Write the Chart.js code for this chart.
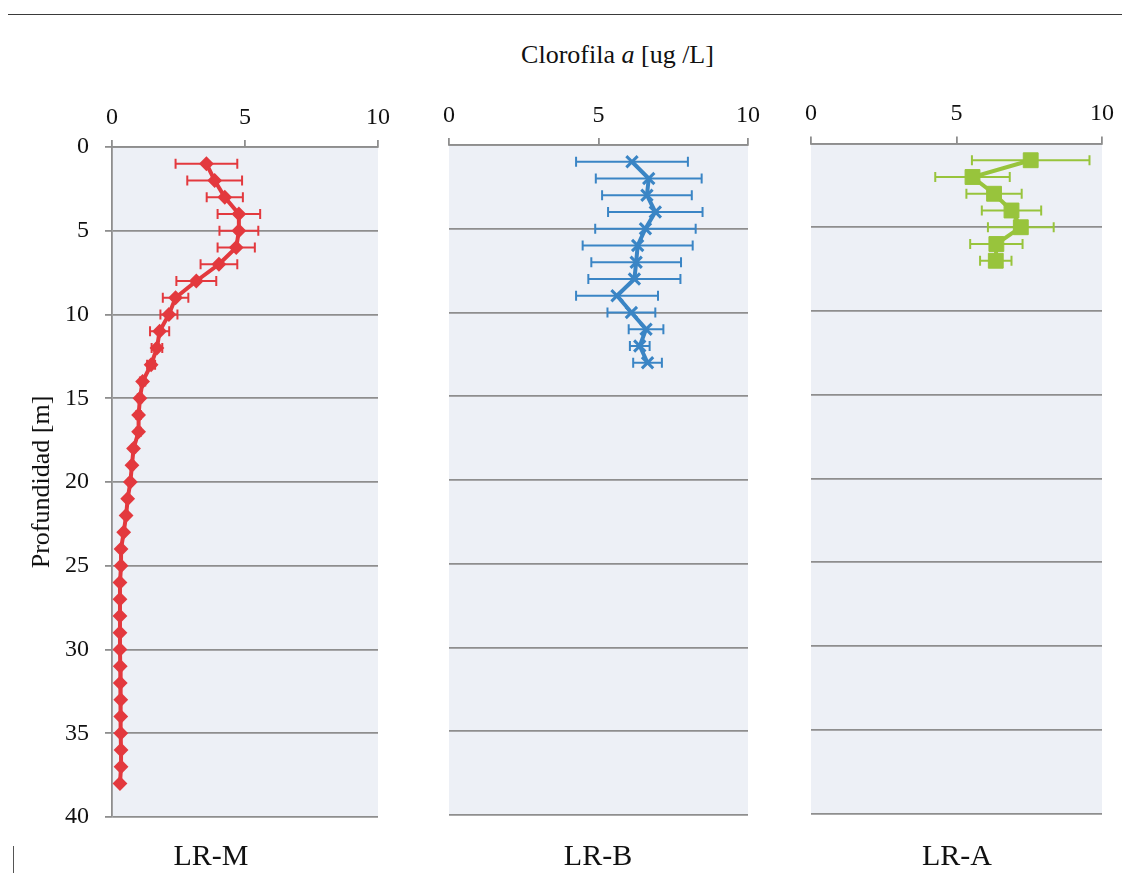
<!DOCTYPE html>
<html>
<head>
<meta charset="utf-8">
<title>Clorofila a - perfiles</title>
<script src="https://cdn.jsdelivr.net/npm/chart.js@4.4.0/dist/chart.umd.min.js"></script>
<style>
  body { margin: 0; background: #fff; font-family: "Liberation Serif", "Times New Roman", serif; color: #111; }
  #page { position: relative; width: 1122px; height: 873px; overflow: hidden; }
  canvas { position: absolute; left: 0; top: 0; }
  .rule { position: absolute; left: 8px; top: 14px; width: 1114px; height: 0; border-top: 1.5px solid #3a3a3a; }
  .mark { position: absolute; left: 13px; top: 846px; width: 0; height: 27px; border-left: 1.5px solid #555; }
  .title { position: absolute; top: 40px; left: 0; width: 1235px; text-align: center; font-size: 26px; }
  .panel { position: absolute; top: 838px; width: 200px; margin-left: -100px; text-align: center; font-size: 30px; }
</style>
</head>
<body>
<div id="page">
  <div class="rule"></div>
  <div class="mark"></div>
  <div class="title">Clorofila <i>a</i> [ug /L]</div>
  <canvas id="chartM" width="1122" height="873"></canvas>
  <canvas id="chartB" width="1122" height="873"></canvas>
  <canvas id="chartA" width="1122" height="873"></canvas>
  <div class="panel" style="left:211px">LR-M</div>
  <div class="panel" style="left:598px">LR-B</div>
  <div class="panel" style="left:957px">LR-A</div>
</div>
<script>
// ---------------- data ----------------
// LR-M
var depthM = [1, 2, 3, 4, 5, 6, 7, 8, 9, 10, 11, 12, 13, 14, 15, 16, 17, 18, 19, 20,
              21, 22, 23, 24, 25, 26, 27, 28, 29, 30, 31, 32, 33, 34, 35, 36, 37, 38];
var chlM = [3.55, 3.86, 4.24, 4.77, 4.77, 4.67, 4.02, 3.17, 2.39, 2.14, 1.79, 1.69, 1.47, 1.15, 1.05, 1.0, 1.0, 0.81, 0.75, 0.69,
            0.59, 0.53, 0.44, 0.34, 0.34, 0.30, 0.30, 0.30, 0.30, 0.30, 0.31, 0.31, 0.33, 0.33, 0.33, 0.34, 0.34, 0.30];
var errM = [1.16, 1.03, 0.68, 0.80, 0.73, 0.70, 0.69, 0.75, 0.48, 0.32, 0.36, 0.20, 0.15, 0.10, 0.08, 0.08, 0.08, 0.06, 0.06, 0.06,
            0.05, 0.05, 0.04, 0.04, 0.04, 0.03, 0.03, 0.03, 0.03, 0.03, 0.03, 0.03, 0.03, 0.03, 0.03, 0.03, 0.03, 0.03];
// LR-B
var depthB = [1, 2, 3, 4, 5, 6, 7, 8, 9, 10, 11, 12, 13];
var chlB = [6.12, 6.68, 6.62, 6.90, 6.57, 6.31, 6.26, 6.20, 5.62, 6.10, 6.59, 6.38, 6.64];
var errB = [1.87, 1.77, 1.50, 1.58, 1.68, 1.84, 1.50, 1.54, 1.37, 0.80, 0.58, 0.33, 0.48];
// LR-A
var depthA = [1, 2, 3, 4, 5, 6, 7];
var chlA = [7.55, 5.55, 6.29, 6.89, 7.21, 6.37, 6.35];
var errA = [2.02, 1.28, 0.95, 1.02, 1.13, 0.90, 0.54];

var xTicks = [0, 5, 10];
var yTicks = [0, 5, 10, 15, 20, 25, 30, 35, 40];

var SERIF = 'Liberation Serif';
Chart.defaults.font.family = SERIF;
Chart.defaults.color = '#111';

var GRID = '#8e8e8e';

// fill plot area with light grey
const plotBg = {
  id: 'plotBg',
  beforeDraw(chart) {
    const a = chart.chartArea, ctx = chart.ctx;
    ctx.save();
    ctx.fillStyle = '#edf0f6';
    ctx.fillRect(a.left, a.top, a.right - a.left, a.bottom - a.top);
    ctx.restore();
  }
};

// horizontal error bars, drawn under the line/markers
const errorBars = {
  id: 'errorBars',
  beforeDatasetsDraw(chart, args, opts) {
    const ctx = chart.ctx, xs = chart.scales.x, ys = chart.scales.y;
    const ds = chart.data.datasets[0];
    const err = opts.err || [];
    ctx.save();
    ctx.strokeStyle = ds.borderColor;
    ctx.lineWidth = 2;
    ds.data.forEach(function (p, i) {
      const y = ys.getPixelForValue(p.y);
      const x0 = xs.getPixelForValue(p.x - err[i]);
      const x1 = xs.getPixelForValue(p.x + err[i]);
      ctx.beginPath();
      ctx.moveTo(x0, y); ctx.lineTo(x1, y);
      ctx.moveTo(x0, y - 5); ctx.lineTo(x0, y + 5);
      ctx.moveTo(x1, y - 5); ctx.lineTo(x1, y + 5);
      ctx.stroke();
    });
    ctx.restore();
  }
};

function makePanel(id, depth, chl, err, look, box) {
  var pts = depth.map(function (d, i) { return { x: chl[i], y: d }; });
  return new Chart(document.getElementById(id), {
    type: 'scatter',
    data: {
      datasets: [{
        data: pts,
        showLine: true,
        borderColor: look.color,
        backgroundColor: look.color,
        borderWidth: 4,
        pointStyle: look.shape,
        pointRadius: look.radius,
        pointBorderWidth: look.pointBorder,
        pointBackgroundColor: look.color,
        pointBorderColor: look.color
      }]
    },
    options: {
      responsive: false,
      animation: false,
      layout: { padding: { left: box.padLeft, right: 1122 - box.right, top: 0, bottom: 873 - box.bottom } },
      plugins: { legend: { display: false }, tooltip: { enabled: false }, errorBars: { err: err } },
      scales: {
        x: {
          type: 'linear',
          position: 'top',
          min: 0, max: 10,
          afterBuildTicks: function (s) { s.ticks = xTicks.map(function (v) { return { value: v }; }); },
          afterFit: function (s) { s.height = box.top; },
          grid: { drawOnChartArea: false, drawTicks: true, tickLength: 7, color: GRID, lineWidth: 1.8 },
          border: { display: true, color: GRID, width: 1.8 },
          ticks: { font: { family: SERIF, size: 24 }, padding: 8, color: '#111' }
        },
        y: {
          type: 'linear',
          reverse: true,
          min: 0, max: 40,
          afterBuildTicks: function (s) { s.ticks = yTicks.map(function (v) { return { value: v }; }); },
          afterFit: function (s) { s.width = box.left - box.padLeft; },
          grid: { color: GRID, lineWidth: 1.8, drawTicks: look.yLabels, tickLength: 7 },
          border: { display: look.yLabels, color: GRID, width: 1.8 },
          ticks: { display: look.yLabels, font: { family: SERIF, size: 24 }, padding: 16, color: '#111' },
          title: { display: look.yLabels, text: 'Profundidad [m]', font: { family: SERIF, size: 26 }, color: '#111' }
        }
      }
    },
    plugins: [plotBg, errorBars]
  });
}

function drawAll() {
  makePanel('chartM', depthM, chlM, errM,
    { color: '#e3393e', shape: 'rectRot', radius: 6, pointBorder: 2, yLabels: true },
    { padLeft: 23, left: 112, right: 378, top: 147, bottom: 817 });

  makePanel('chartB', depthB, chlB, errB,
    { color: '#3a85c5', shape: 'crossRot', radius: 8, pointBorder: 3, yLabels: false },
    { padLeft: 0, left: 449, right: 748, top: 145, bottom: 815 });

  makePanel('chartA', depthA, chlA, errA,
    { color: '#98c43c', shape: 'rect', radius: 10.5, pointBorder: 1, yLabels: false },
    { padLeft: 0, left: 811, right: 1104, top: 143.5, bottom: 813.5 });
}

// make sure the serif face is ready before the canvas uses it
if (document.fonts && document.fonts.load) {
  document.fonts.load('24px "Liberation Serif"').then(drawAll, drawAll);
} else {
  drawAll();
}
</script>
</body>
</html>
